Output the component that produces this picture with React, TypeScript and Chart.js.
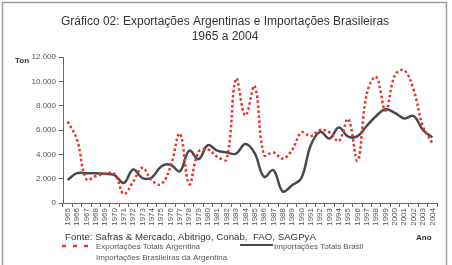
import React, { useEffect, useRef } from "react";
import { Chart, registerables } from "chart.js";

Chart.register(...registerables);

// Anos da série histórica
const years: string[] = [
  "1965", "1966", "1967", "1968", "1969", "1970", "1971", "1972", "1973", "1974",
  "1975", "1976", "1977", "1978", "1979", "1980", "1981", "1982", "1983", "1984",
  "1985", "1986", "1987", "1988", "1989", "1990", "1991", "1992", "1993", "1994",
  "1995", "1996", "1997", "1998", "1999", "2000", "2001", "2002", "2003", "2004",
];

// Exportações Totais Argentina (mil ton)
const exportacoesArgentina: number[] = [
  6700, 5200, 1950, 2200, 2400, 2400, 750, 1750, 2900, 1850,
  1550, 3000, 5700, 1550, 4200, 4400, 3800, 3600, 10200, 7200,
  9600, 3950, 4150, 3650, 4350, 5800, 5500, 6000, 5800, 5100,
  6900, 3500, 9000, 10350, 7600, 10500, 10900, 9300, 6300, 4900,
];

// Importações Totais Brasil (mil ton)
const importacoesBrasil: number[] = [
  1900, 2450, 2450, 2450, 2400, 2300, 1650, 2750, 2050, 2100,
  3000, 3150, 2600, 4300, 3600, 4750, 4300, 4150, 4050, 4850,
  4100, 2150, 2700, 950, 1450, 2050, 4750, 5850, 5300, 6200,
  5450, 5500, 6350, 7150, 7700, 7400, 6950, 7150, 6000, 5400,
];

const titleLines: string[] = [
  "Gráfico 02: Exportações Argentinas e Importações Brasileiras",
  "1965 a 2004",
];
const sourceText = "Fonte: Safras & Mercado, Abitrigo, Conab,  FAO, SAGPyA";
const extraLegendLabel = "Importações Brasileiras da Argentina";

const RED = "#e8332b";
const DARK = "#4a4a4a";
const FONT = "'Liberation Sans', Arial, sans-serif";

// separador de milhar com ponto: 12000 -> "12.000"
const formatTon = (v: number): string =>
  v === 0 ? "0" : `${Math.floor(v / 1000)}.${String(v % 1000).padStart(3, "0")}`;

const decorations = {
  id: "decorations",
  afterDraw(chart: any) {
    const ctx = chart.ctx as CanvasRenderingContext2D;
    ctx.save();

    // moldura
    ctx.strokeStyle = "#9a9a9a";
    ctx.lineWidth = 1.5;
    ctx.strokeRect(2.5, 2.5, 444, 275);

    // título
    ctx.fillStyle = "#333";
    ctx.textAlign = "center";
    ctx.textBaseline = "middle";
    ctx.font = `12px ${FONT}`;
    ctx.fillText(titleLines[0], 225, 22);
    ctx.fillText(titleLines[1], 225, 37);

    // rótulos dos eixos
    ctx.font = `bold 8px ${FONT}`;
    ctx.textAlign = "left";
    ctx.fillText("Ton", 15, 61);
    ctx.fillText("Ano", 416, 238);

    // fonte
    ctx.font = `9.7px ${FONT}`;
    ctx.fillStyle = "#333";
    ctx.fillText(sourceText, 65, 237);

    // legenda
    const ds = chart.data.datasets;
    ctx.font = `8px ${FONT}`;
    ctx.fillStyle = "#555";
    // entrada 1: tracejado vermelho
    ctx.strokeStyle = ds[0].borderColor;
    ctx.lineWidth = 2.5;
    ctx.setLineDash([4, 7]);
    ctx.beginPath();
    ctx.moveTo(62, 246);
    ctx.lineTo(90, 246);
    ctx.stroke();
    ctx.setLineDash([]);
    ctx.fillText(ds[0].label, 96, 247);
    // entrada 2: linha contínua
    ctx.strokeStyle = ds[1].borderColor;
    ctx.lineWidth = 2;
    ctx.beginPath();
    ctx.moveTo(240, 245);
    ctx.lineTo(273, 245);
    ctx.stroke();
    ctx.fillText(ds[1].label, 274, 247);
    // entrada 3
    ctx.fillText(extraLegendLabel, 96, 258);

    ctx.restore();
  },
};

export default function App() {
  const canvasRef = useRef<HTMLCanvasElement | null>(null);

  useEffect(() => {
    document.body.style.margin = "0";
    const canvas = canvasRef.current;
    if (!canvas) return;
    const chart = new Chart(canvas, {
      type: "line",
      data: {
        labels: years,
        datasets: [
          {
            label: "Exportações Totais Argentina",
            data: exportacoesArgentina,
            borderColor: RED,
            borderWidth: 2.5,
            borderDash: [2.5, 2.5],
            pointRadius: 0,
            tension: 0.4,
            fill: false,
          },
          {
            label: "Importações Totais Brasil",
            data: importacoesBrasil,
            borderColor: DARK,
            borderWidth: 2.5,
            pointRadius: 0,
            tension: 0.4,
            fill: false,
          },
        ],
      },
      options: {
        responsive: false,
        animation: false,
        devicePixelRatio: 1,
        layout: { padding: { top: 57, right: 15, bottom: 0, left: 0 } },
        plugins: {
          legend: { display: false },
          title: { display: false },
          tooltip: { enabled: false },
        },
        scales: {
          x: {
            type: "category",
            offset: true,
            afterFit: (s: any) => {
              s.height = 62;
            },
            grid: {
              display: true,
              offset: true,
              drawOnChartArea: false,
              drawTicks: true,
              tickLength: 4,
              color: "#666",
            },
            border: { display: true, color: "#666", width: 1 },
            ticks: {
              autoSkip: false,
              minRotation: 90,
              maxRotation: 90,
              padding: 1,
              color: "#555",
              font: { size: 8, family: FONT },
            },
          },
          y: {
            min: 0,
            max: 12000,
            afterFit: (s: any) => {
              s.width = 63;
            },
            grid: {
              display: true,
              drawOnChartArea: false,
              drawTicks: true,
              tickLength: 4,
              color: "#666",
            },
            border: { display: true, color: "#666", width: 1 },
            ticks: {
              stepSize: 1000,
              padding: 3,
              color: "#555",
              font: { size: 8, family: FONT },
              callback: (v: any) => formatTon(Number(v)),
            },
          },
        },
      },
      plugins: [decorations],
    });
    return () => chart.destroy();
  }, []);

  return (
    <div style={{ position: "absolute", left: 0, top: 0, width: 452, height: 265, background: "#fff" }}>
      <canvas ref={canvasRef} width={452} height={265} style={{ display: "block" }} />
    </div>
  );
}
